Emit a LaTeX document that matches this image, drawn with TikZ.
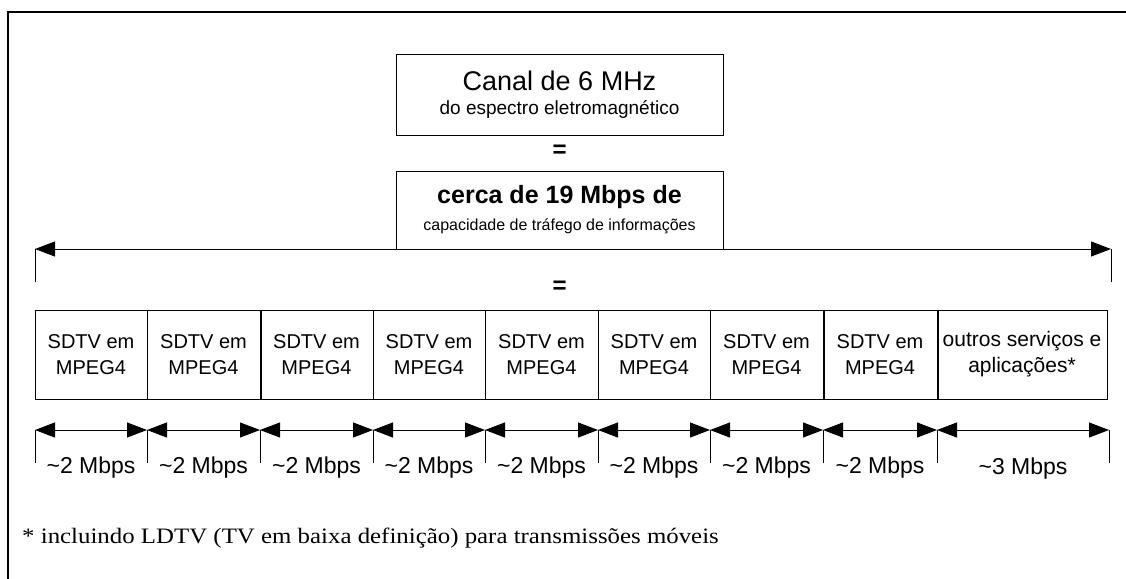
\documentclass[tikz,border=0pt]{standalone}
\usepackage{fontspec}
\setmainfont{Liberation Sans}
\newfontfamily\serifnote{Liberation Serif}
\usetikzlibrary{arrows.meta,calc}
\newcommand{\fs}[1]{\fontsize{#1}{#1}\selectfont}
\tikzset{
  bigbox/.style={draw, line width=1pt, minimum width=327pt, inner sep=0pt, align=center},
  cell/.style={draw, line width=1pt, minimum height=89pt, inner sep=0pt, align=center, font=\fs{20}},
  dim/.style={line width=1pt, {Triangle[length=20pt,width=15pt]}-{Triangle[length=20pt,width=15pt]}},
  tick/.style={line width=1pt},
  lbl/.style={font=\fs{23}, inner sep=0pt},
  eq/.style={font=\bfseries\fs{24}, inner sep=0pt}
}
\begin{document}
\begin{tikzpicture}[x=1pt,y=-1pt]
\useasboundingbox (0,0) rectangle (1126,578);
% frame (only top and left edges visible)
\draw[line width=2pt] (8,600) -- (8,12) -- (1140,12);
% top boxes
\node[bigbox, minimum height=80pt] (canal) at (559.5,95)
  {{\fs{27}Canal de 6 MHz}\\[9pt]{\fs{19}do espectro eletromagnético}};
\node[eq] (eq1) at (559.5,151) {=};
\node[bigbox, minimum height=78pt] (cerca) at (559.5,210)
  {{\bfseries\fs{25}cerca de 19 Mbps de}\\[9pt]{\fs{16}capacidade de tráfego de informações}};
% total arrow
\coordinate (L) at (35,249);
\coordinate (R) at (1111,249);
\coordinate (Lb) at (35,282);
\coordinate (Rb) at (1111,282);
\draw[dim] (L) -- (R);
\draw[tick] (L) -- (Lb);
\draw[tick] (R) -- (Rb);
\node[eq] (eq2) at (559.5,287) {=};
% cells
\foreach \i/\a/\b in {1/35/147,2/147/260,3/260/373,4/373/485,5/485/598,6/598/710,7/710/823,8/823/937}{
  \pgfmathsetmacro{\w}{\b-\a}
  \pgfmathsetmacro{\c}{(\a+\b)/2}
  \node[cell, minimum width=\w pt] (c\i) at (\c,354.5) {SDTV em\\[6pt]MPEG4};
}
\node[cell, minimum width=170pt, font=\fs{21}] (c9) at (1022,354.5) {outros serviços e\\[5pt]aplicações*};
\draw[line width=2pt] (c2.north east) -- (c2.south east);
\draw[line width=2pt] (c7.north east) -- (c7.south east);
\draw[line width=2pt] (c8.north east) -- (c8.south east);
% dimension arrows
\foreach \i/\x in {0/35,1/147,2/260,3/373,4/485,5/598,6/710,7/823,8/937,9/1109}{
  \coordinate (t\i) at (\x,430);
  \coordinate (b\i) at (\x,463);
  \draw[tick] (t\i) -- (b\i);
}
\foreach \i/\j in {0/1,1/2,2/3,3/4,4/5,5/6,6/7,7/8,8/9}{
  \draw[dim] (t\i) -- (t\j);
}
\foreach \i/\j in {0/1,1/2,2/3,3/4,4/5,5/6,6/7,7/8}{
  \node[lbl] (m\i) at ($(t\i)!0.5!(t\j)+(0,38)$) {\textasciitilde2 Mbps};
}
\node[lbl] (m8) at (1023,469) {\textasciitilde3 Mbps};
% footnote
\node[anchor=base west, inner sep=0pt, font=\serifnote\fs{22}] (note) at (22,543)
  {\scalebox{1.13}[1]{* incluindo LDTV (TV em baixa definição) para transmissões móveis}};
\end{tikzpicture}
\end{document}
